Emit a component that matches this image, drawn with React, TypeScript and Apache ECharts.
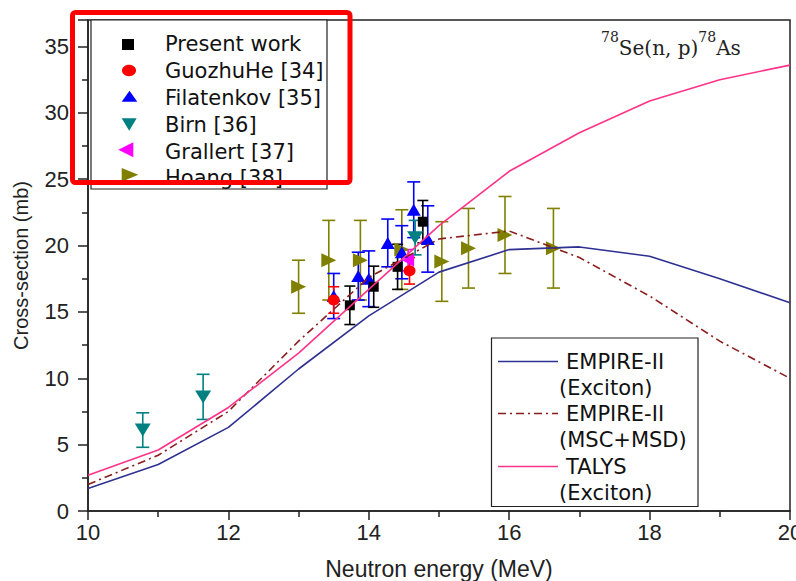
import React, { useEffect, useRef } from "react";
import * as echarts from "echarts";

// ---- data ----
const energies = [10, 11, 12, 13, 14, 15, 16, 17, 18, 19, 20];
const empireExciton = [1.7, 3.5, 6.3, 10.7, 14.7, 18.0, 19.7, 19.9, 19.2, 17.5, 15.7];
const empireMscMsd = [2.0, 4.2, 7.5, 12.8, 17.6, 20.5, 21.1, 19.1, 16.2, 12.8, 10.0];
const talysExciton = [2.7, 4.6, 7.8, 11.9, 16.7, 21.5, 25.6, 28.5, 30.9, 32.5, 33.6];

// [energy, cross-section, error]
const presentWork = [
  [13.73, 15.5, 1.45],
  [14.07, 16.9, 1.55],
  [14.41, 18.4, 1.7],
  [14.77, 21.8, 1.6],
];
const guozhuHe = [
  [13.5, 15.9, 1.0],
  [14.58, 18.1, 1.0],
];
const filatenkov = [
  [13.5, 16.2, 1.7],
  [13.85, 17.7, 1.8],
  [14.0, 17.5, 2.1],
  [14.27, 20.2, 1.8],
  [14.47, 19.5, 2.0],
  [14.64, 22.7, 2.1],
  [14.84, 20.5, 2.5],
];
const birn = [
  [10.78, 6.1, 1.3],
  [11.64, 8.6, 1.7],
  [14.66, 20.6, 1.3],
];
const grallert = [[14.56, 18.9, 0.8]];
const hoang = [
  [13.0, 16.9, 2.0],
  [13.43, 18.9, 3.0],
  [13.88, 18.9, 3.0],
  [14.47, 19.7, 3.0],
  [15.04, 18.8, 3.0],
  [15.42, 19.8, 3.0],
  [15.94, 20.8, 2.9],
  [16.63, 19.8, 3.0],
];
const xTicks = { min: 10, max: 20, interval: 2 };
const yTicks = { min: 0, max: 37, interval: 5 };

const AXIS_FONT = "'Liberation Sans', Arial, sans-serif";
const LEG_FONT = "'DejaVu Sans', sans-serif";
const AX = "#222";

function errorBars(name: string, data: number[][], color: string, cap: number) {
  return {
    type: "custom",
    name: name + " err",
    data,
    z: 2,
    silent: true,
    encode: { x: 0, y: 1 },
    renderItem: (params: any, api: any) => {
      const x = api.value(0);
      const y = api.value(1);
      const e = api.value(2);
      const t = api.coord([x, y + e]);
      const b = api.coord([x, y - e]);
      const hw = cap / 2;
      const st = { stroke: color, lineWidth: 1.6 };
      return {
        type: "group",
        children: [
          { type: "line", shape: { x1: t[0], y1: t[1], x2: b[0], y2: b[1] }, style: st },
          { type: "line", shape: { x1: t[0] - hw, y1: t[1], x2: t[0] + hw, y2: t[1] }, style: st },
          { type: "line", shape: { x1: b[0] - hw, y1: b[1], x2: b[0] + hw, y2: b[1] }, style: st },
        ],
      };
    },
  };
}

function markers(name: string, data: number[][], color: string, symbol: string, size: any, rotate = 0) {
  return {
    type: "scatter",
    name,
    data: data.map((d) => [d[0], d[1]]),
    symbol,
    symbolSize: size,
    symbolRotate: rotate,
    itemStyle: { color, opacity: 1 },
    z: 3,
  };
}

function curve(name: string, values: number[], color: string, type: any) {
  return {
    type: "line",
    name,
    data: energies.map((e, i) => [e, values[i]]),
    symbol: "none",
    lineStyle: { color, width: 1.6, type },
    z: 4,
  };
}

export default function App() {
  const ref = useRef<HTMLDivElement>(null);
  useEffect(() => {
    if (!ref.current) return;
    const chart = echarts.init(ref.current, null, { renderer: "svg" });

    const legRows = [44, 71, 98, 125, 152, 178];
    const legNames = ["Present work", "GuozhuHe [34]", "Filatenkov [35]", "Birn [36]", "Grallert [37]", "Hoang [38]"];
    const textStyle = (t: string, x: number, y: number, size = 21) => ({
      type: "text",
      x,
      y,
      style: { text: t, fontSize: size, fontFamily: LEG_FONT, fill: "#111", textVerticalAlign: "middle", verticalAlign: "middle" },
      z: 10,
    });

    const graphic: any[] = [
      // top-left legend box
      { type: "rect", shape: { x: 91, y: 20, width: 236, height: 169 }, style: { fill: "#fff", stroke: "#222", lineWidth: 1.2 }, z: 9 },
      { type: "rect", shape: { x: 122, y: 39, width: 12, height: 11 }, style: { fill: "#000" }, z: 10 },
      { type: "ellipse", shape: { cx: 129, cy: 70.5, rx: 7, ry: 5.7 }, style: { fill: "#ff0000" }, z: 10 },
      { type: "polygon", shape: { points: [[121.7, 101.7], [137.3, 101.7], [129.5, 90.7]] }, style: { fill: "#0000ff" }, z: 10 },
      { type: "polygon", shape: { points: [[121.7, 118.3], [136.7, 118.3], [129.2, 130.7]] }, style: { fill: "#008080" }, z: 10 },
      { type: "polygon", shape: { points: [[118.3, 149.8], [133.3, 142.3], [133.3, 157.3]] }, style: { fill: "#ff00ff" }, z: 10 },
      { type: "polygon", shape: { points: [[121.7, 168], [121.7, 181.7], [138.3, 174.8]] }, style: { fill: "#808000" }, z: 10 },
      ...legNames.map((n, i) => textStyle(n, 165, legRows[i])),
      // red highlight frame
      { type: "rect", shape: { x: 72.5, y: 12.5, width: 277.5, height: 170, r: 3 }, style: { fill: "none", stroke: "#ff0000", lineWidth: 5 }, z: 20 },
      // bottom-right legend
      { type: "rect", shape: { x: 491.5, y: 338, width: 206.5, height: 168.5 }, style: { fill: "#fff", stroke: "#222", lineWidth: 1.2 }, z: 9 },
      { type: "line", shape: { x1: 498, y1: 361.5, x2: 558, y2: 361.5 }, style: { stroke: "#2E3192", lineWidth: 1.6 }, z: 10 },
      { type: "line", shape: { x1: 498, y1: 413.5, x2: 558, y2: 413.5 }, style: { stroke: "#8B1C1C", lineWidth: 1.6, lineDash: [8, 4, 2, 4] }, z: 10 },
      { type: "line", shape: { x1: 498, y1: 466.5, x2: 558, y2: 466.5 }, style: { stroke: "#FF3388", lineWidth: 1.6 }, z: 10 },
      textStyle("EMPIRE-II", 566, 362),
      textStyle("(Exciton)", 559, 388),
      textStyle("EMPIRE-II", 566, 414),
      textStyle("(MSC+MSD)", 559, 440),
      textStyle("TALYS", 566, 467),
      textStyle("(Exciton)", 559, 493),
      // reaction label
      {
        type: "text",
        x: 601,
        y: 30,
        z: 10,
        style: {
          text: "{s|78}{n|Se(n, p)}{s|78}{n|As}",
          fill: "#222",
          rich: {
            s: { fontSize: 14, fontFamily: "'DejaVu Serif', serif", verticalAlign: "top", lineHeight: 16, fill: "#222" },
            n: { fontSize: 20, fontFamily: "'DejaVu Serif', serif", verticalAlign: "bottom", lineHeight: 28, fill: "#222" },
          },
        },
      },
    ];

    chart.setOption({
      animation: false,
      backgroundColor: "#fff",
      grid: {
        left: 88,
        right: 6,
        top: 20,
        bottom: 70,
        containLabel: false,
        outerBoundsMode: "none",
        show: true,
        borderColor: AX,
        borderWidth: 1.5,
        backgroundColor: "transparent",
      },
      xAxis: {
        type: "value",
        min: xTicks.min,
        max: xTicks.max,
        interval: xTicks.interval,
        axisLine: { onZero: false, lineStyle: { color: AX, width: 1.5 } },
        axisTick: { length: 9, lineStyle: { color: AX, width: 1.5 } },
        minorTick: { show: true, splitNumber: 2, length: 6, lineStyle: { color: AX, width: 1.5 } },
        splitLine: { show: false },
        axisLabel: { fontSize: 22, color: AX, margin: 10, fontFamily: AXIS_FONT, hideOverlap: false },
        name: "Neutron energy (MeV)",
        nameLocation: "middle",
        nameGap: 46,
        nameTextStyle: { fontSize: 23, color: AX, fontFamily: AXIS_FONT },
      },
      yAxis: {
        type: "value",
        min: yTicks.min,
        max: yTicks.max,
        interval: yTicks.interval,
        axisLine: { onZero: false, lineStyle: { color: AX, width: 1.5 } },
        axisTick: { length: 10, lineStyle: { color: AX, width: 1.5 } },
        minorTick: { show: true, splitNumber: 2, length: 6, lineStyle: { color: AX, width: 1.5 } },
        splitLine: { show: false },
        axisLabel: { fontSize: 22, color: AX, margin: 19, fontFamily: AXIS_FONT, showMaxLabel: false },
        name: "Cross-section (mb)",
        nameLocation: "middle",
        nameGap: 57,
        nameTextStyle: { fontSize: 20, color: AX, fontFamily: AXIS_FONT },
      },
      series: [
        errorBars("Hoang [38]", hoang, "#808000", 13),
        errorBars("Filatenkov [35]", filatenkov, "#0000ff", 13),
        errorBars("Birn [36]", birn, "#008080", 13),
        errorBars("Present work", presentWork, "#000000", 11),
        errorBars("GuozhuHe [34]", guozhuHe, "#ff0000", 11),
        errorBars("Grallert [37]", grallert, "#ff00ff", 11),
        markers("Hoang [38]", hoang, "#808000", "triangle", [14, 15], -90),
        markers("Filatenkov [35]", filatenkov, "#0000ff", "triangle", [14, 12]),
        markers("Birn [36]", birn, "#008080", "triangle", [16, 13], 180),
        markers("Present work", presentWork, "#000000", "rect", [10, 10]),
        markers("GuozhuHe [34]", guozhuHe, "#ff0000", "circle", [12, 11]),
        markers("Grallert [37]", grallert, "#ff00ff", "triangle", [13, 12], 90),
        curve("EMPIRE-II (Exciton)", empireExciton, "#2E3192", "solid"),
        curve("EMPIRE-II (MSC+MSD)", empireMscMsd, "#8B1C1C", [8, 4, 2, 4]),
        curve("TALYS (Exciton)", talysExciton, "#FF3388", "solid"),
      ],
      graphic,
    });
    return () => chart.dispose();
  }, []);
  return (
    <div
      ref={ref}
      style={{ position: "fixed", left: 0, top: 0, width: 796, height: 581, background: "#fff" }}
    />
  );
}
